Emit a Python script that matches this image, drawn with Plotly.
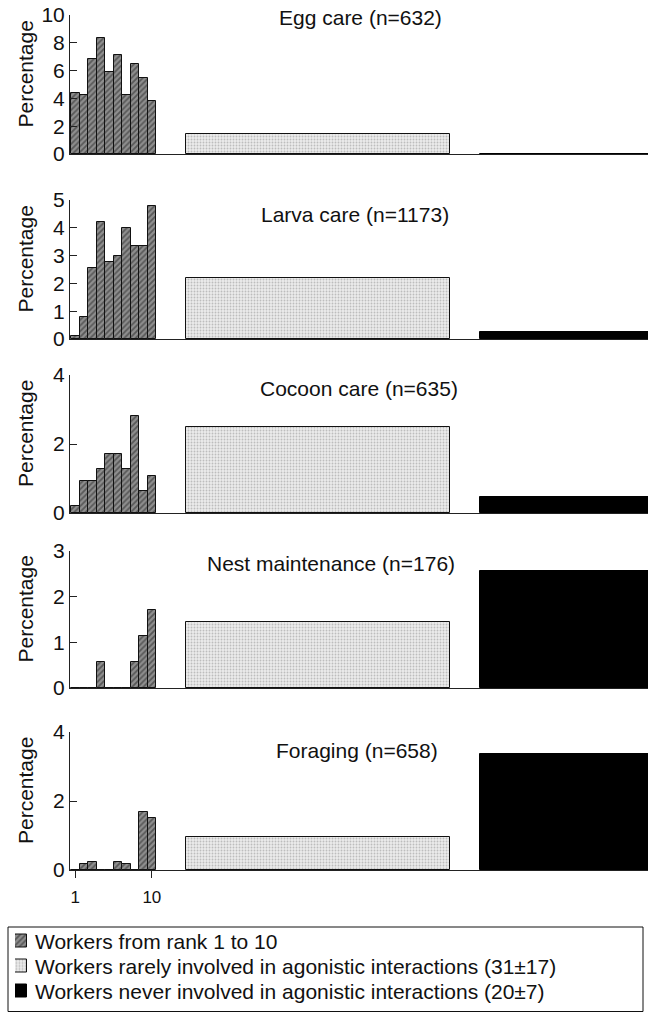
import plotly.graph_objects as go

# ---------------- data ----------------
ranks = list(range(1, 11))
panel_titles = [
    "Egg care (n=632)",
    "Larva care (n=1173)",
    "Cocoon care (n=635)",
    "Nest maintenance (n=176)",
    "Foraging (n=658)",
]
rank_pct = [
    [4.41, 4.24, 6.86, 8.32, 5.88, 7.10, 4.24, 6.45, 5.49, 3.84],
    [0.12, 0.80, 2.56, 4.21, 2.78, 2.97, 3.98, 3.33, 3.33, 4.78],
    [0.19, 0.93, 0.93, 1.27, 1.72, 1.72, 1.29, 2.82, 0.65, 1.08],
    [0.00, 0.00, 0.00, 0.58, 0.00, 0.00, 0.00, 0.58, 1.13, 1.70],
    [0.00, 0.16, 0.24, 0.00, 0.00, 0.24, 0.16, 0.00, 1.68, 1.51],
]
rarely_pct = [1.41, 2.19, 2.48, 1.44, 0.97]
never_pct = [0.00, 0.25, 0.46, 2.56, 3.36]
rarely_n = 31   # mean group size (31±17)
never_n = 20    # mean group size (20±7)
y_max = [10, 5, 4, 3, 4]
y_dtick = [2, 1, 2, 1, 2]
legend_names = [
    "Workers from rank 1 to 10",
    "Workers rarely involved in agonistic interactions (31±17)",
    "Workers never involved in agonistic interactions (20±7)",
]

# ---------------- styles ----------------
W, H = 648, 1013
FONT = "Arial, Liberation Sans, sans-serif"
TXT = "#111"
rank_marker = dict(color="#7a7a7a", line=dict(color="#111", width=1),
                   pattern=dict(shape="/", fgcolor="#222222", bgcolor="#8e8e8e",
                                size=4, solidity=0.45))
rarely_marker = dict(color="#e6e6e6", line=dict(color="#111", width=1),
                     pattern=dict(shape=".", fgcolor="#8f8f8f", bgcolor="#ebebeb",
                                  size=3, solidity=0.3))
never_marker = dict(color="#000000", line=dict(color="#000", width=1))
markers = [rank_marker, rarely_marker, never_marker]

panel_px = [(15, 154), (200, 339), (375, 513), (551, 688), (732, 870)]
title_right_px = [(444, 17), (451, 214), (460, 388), (457, 563), (440, 750)]
rarely_start = 14.0
never_start = 48.5
x_range = [0.38, 68.3]
legend_rows_px = [941, 966, 991]

fig = go.Figure()
for i in range(5):
    xa = "x" if i == 0 else f"x{i+1}"
    ya = "y" if i == 0 else f"y{i+1}"
    fig.add_trace(go.Bar(
        x=ranks, y=rank_pct[i], width=[1] * len(ranks), name=legend_names[0],
        marker=rank_marker, xaxis=xa, yaxis=ya, showlegend=False,
    ))
    fig.add_trace(go.Bar(
        x=[rarely_start + rarely_n / 2], y=[rarely_pct[i]], width=[rarely_n],
        name=legend_names[1], marker=rarely_marker, xaxis=xa, yaxis=ya, showlegend=False,
    ))
    fig.add_trace(go.Bar(
        x=[never_start + never_n / 2], y=[never_pct[i]], width=[never_n],
        name=legend_names[2], marker=never_marker, xaxis=xa, yaxis=ya, showlegend=False,
    ))

# legend swatches (drawn as tiny bars so they carry the same fill patterns)
for k in range(3):
    fig.add_trace(go.Bar(
        x=[1], y=[legend_names[k]], orientation="h", width=[0.5],
        marker=markers[k], xaxis="x6", yaxis="y6", showlegend=False,
        hoverinfo="skip",
    ))

layout = dict(
    width=W, height=H, margin=dict(l=0, r=0, t=0, b=0, autoexpand=False),
    paper_bgcolor="white", plot_bgcolor="white",
    barmode="overlay", bargap=0, showlegend=False,
    font=dict(family=FONT, size=20, color=TXT),
)
annotations = []
for i in range(5):
    top, bot = panel_px[i]
    dom = [1 - bot / H, 1 - top / H]
    xk = "xaxis" if i == 0 else f"xaxis{i+1}"
    yk = "yaxis" if i == 0 else f"yaxis{i+1}"
    last = i == 4
    layout[xk] = dict(
        domain=[70 / W, 1], range=x_range, anchor="y" if i == 0 else f"y{i+1}",
        showline=True, linecolor="#222", linewidth=1, showgrid=False, zeroline=False,
        tickmode="array", tickvals=[1, 10] if last else [],
        ticktext=["1", "10"] if last else [],
        ticks="outside" if last else "", ticklen=7, tickcolor="#222",
        tickfont=dict(size=17, family=FONT), ticklabelstandoff=5,
    )
    layout[yk] = dict(
        domain=dom, range=[0, y_max[i]], anchor="x" if i == 0 else f"x{i+1}",
        showline=True, linecolor="#222", linewidth=1, showgrid=False, zeroline=False,
        dtick=y_dtick[i], tick0=0, ticks="inside", ticklen=7, tickcolor="#222",
        tickfont=dict(size=21, family=FONT),
    )
    annotations.append(dict(
        text="Percentage", textangle=-90, x=25 / W, y=1 - ((top + bot) / 2 - 10) / H,
        xref="paper", yref="paper", xanchor="center", yanchor="middle", showarrow=False,
        font=dict(size=21, family=FONT, color=TXT),
    ))
    tx, ty = title_right_px[i]
    annotations.append(dict(
        text=panel_titles[i], x=tx / W, y=1 - ty / H, xref="paper", yref="paper",
        xanchor="right", yanchor="middle",
        showarrow=False, font=dict(size=21, family=FONT, color=TXT),
    ))

# legend axis + text
row_h = legend_rows_px[1] - legend_rows_px[0]
layout["xaxis6"] = dict(domain=[15 / W, 27 / W], range=[0, 1], visible=False,
                        anchor="y6", fixedrange=True)
layout["yaxis6"] = dict(
    domain=[1 - (legend_rows_px[-1] + row_h / 2) / H, 1 - (legend_rows_px[0] - row_h / 2) / H],
    type="category", categoryorder="array", categoryarray=legend_names[::-1],
    visible=False, anchor="x6", fixedrange=True,
)
for k in range(3):
    annotations.append(dict(
        text=legend_names[k], x=33 / W, y=1 - legend_rows_px[k] / H,
        xref="paper", yref="paper", xanchor="left", yanchor="middle",
        showarrow=False, font=dict(size=21, family=FONT, color=TXT),
    ))
layout["annotations"] = annotations
layout["shapes"] = [dict(
    type="rect", xref="paper", yref="paper",
    x0=8 / W, x1=643 / W, y0=1 - 1011.5 / H, y1=1 - 927 / H,
    line=dict(color="#111", width=1), fillcolor="rgba(0,0,0,0)", layer="below",
)]
fig.update_layout(**layout)
fig.write_html("out.html")
